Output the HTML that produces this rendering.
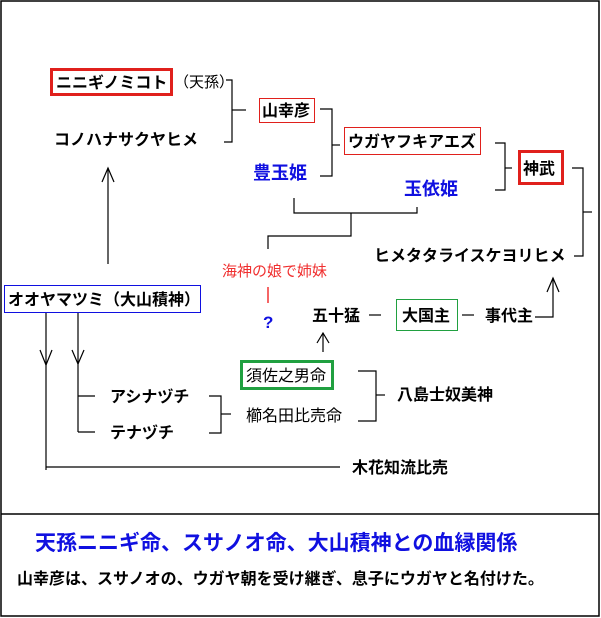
<!DOCTYPE html>
<html><head><meta charset="utf-8"><style>
html,body{margin:0;padding:0;background:#fff;}
svg{display:block;}
text{font-family:"Liberation Sans","Noto Sans CJK JP",sans-serif;}
.b{font-weight:bold;font-size:16px;fill:#000;}
</style></head><body>
<svg width="601" height="618" viewBox="0 0 601 618" xmlns="http://www.w3.org/2000/svg">
<rect x="1" y="1" width="598" height="615" fill="none" stroke="#000" stroke-width="1.5"/>
<line x1="1" y1="514" x2="599" y2="514" stroke="#000" stroke-width="1.5"/>
<g fill="none" stroke="#000" stroke-width="1.2">
<polyline points="226,80 232,80 232,142 224,142"/><line x1="232" y1="110" x2="246" y2="110"/>
<polyline points="320,109 332,109 332,176 320,176"/><line x1="332" y1="145" x2="340" y2="145"/>
<polyline points="495,143 505,143 505,190 495,190"/><line x1="505" y1="168" x2="512" y2="168"/>
<polyline points="572,168 583,168 583,256 574,256"/><line x1="583" y1="212" x2="592" y2="212"/>
<polyline points="294,198 294,213 417,213 417,207"/>
<polyline points="351,213 351,236 268,236 268,249"/>
<line x1="108" y1="264" x2="108" y2="168"/><polyline points="102,182 108,168 114,182"/>
<polyline points="535,317 553,317 553,278"/><polyline points="547,292 553,278 559,292"/>
<line x1="323" y1="352" x2="323" y2="333"/><polyline points="317,343 323,333 329,343"/>
<line x1="46" y1="312" x2="46" y2="470"/><polyline points="40,350 46,365 52,350"/>
<line x1="78" y1="312" x2="78" y2="432"/><polyline points="72,350 78,364 84,350"/>
<line x1="78" y1="396" x2="95" y2="396"/><line x1="78" y1="432" x2="95" y2="432"/>
<line x1="46" y1="467" x2="340" y2="467"/>
<polyline points="209,396 221,396 221,433 209,433"/><line x1="221" y1="414" x2="231" y2="414"/>
<polyline points="358,371 376,371 376,421 358,421"/><line x1="376" y1="395" x2="385" y2="395"/>
<line x1="369" y1="315" x2="381" y2="315"/><line x1="462" y1="315" x2="474" y2="315"/>
</g>
<line x1="268" y1="287" x2="268" y2="303" stroke="#e00" stroke-width="1.2"/>
<rect x="51.5" y="69.5" width="120" height="25" fill="none" stroke="#e0201c" stroke-width="3"/>
<rect x="259.5" y="98.5" width="55" height="24" fill="none" stroke="#e0201c" stroke-width="1"/>
<rect x="344.5" y="127.5" width="136" height="27" fill="none" stroke="#e0201c" stroke-width="1"/>
<rect x="519.5" y="151.5" width="43" height="32" fill="none" stroke="#e0201c" stroke-width="3"/>
<rect x="4.5" y="285.5" width="196" height="27" fill="none" stroke="#1010e0" stroke-width="1"/>
<rect x="396.5" y="299.5" width="61" height="31" fill="none" stroke="#20a040" stroke-width="1"/>
<rect x="241.5" y="361.5" width="91" height="27" fill="none" stroke="#20a040" stroke-width="3"/>
<text class="b" x="56" y="88">ニニギノミコト</text>
<text x="174" y="87" font-size="15">（天孫）</text>
<text class="b" x="54" y="145">コノハナサクヤヒメ</text>
<text class="b" x="262" y="116">山幸彦</text>
<text class="b" x="348" y="147">ウガヤフキアエズ</text>
<text class="b" x="253" y="179" style="fill:#1010e0;font-size:18px">豊玉姫</text>
<text class="b" x="404" y="195" style="fill:#1010e0;font-size:18px">玉依姫</text>
<text class="b" x="523" y="174">神武</text>
<text class="b" x="374" y="261">ヒメタタライスケヨリヒメ</text>
<text x="222" y="276" font-size="15" fill="#f03030">海神の娘で姉妹</text>
<text x="263" y="328" font-size="17" font-weight="bold" fill="#1010e0">?</text>
<text class="b" x="8" y="305">オオヤマツミ（大山積神）</text>
<text class="b" x="312" y="321">五十猛</text>
<text class="b" x="402" y="321">大国主</text>
<text class="b" x="485" y="321">事代主</text>
<text class="b" x="246" y="381" style="font-weight:normal">須佐之男命</text>
<text class="b" x="397" y="400">八島士奴美神</text>
<text class="b" x="246" y="421" style="font-weight:normal">櫛名田比売命</text>
<text class="b" x="110" y="402">アシナヅチ</text>
<text class="b" x="110" y="438">テナヅチ</text>
<text class="b" x="352" y="473">木花知流比売</text>
<text x="35" y="550" font-size="21" font-weight="bold" fill="#1010e0">天孫ニニギ命、スサノオ命、大山積神との血縁関係</text>
<text x="17" y="584" font-size="16" font-weight="bold">山幸彦は、スサノオの、ウガヤ朝を受け継ぎ、息子にウガヤと名付けた。</text>
</svg>
</body></html>
